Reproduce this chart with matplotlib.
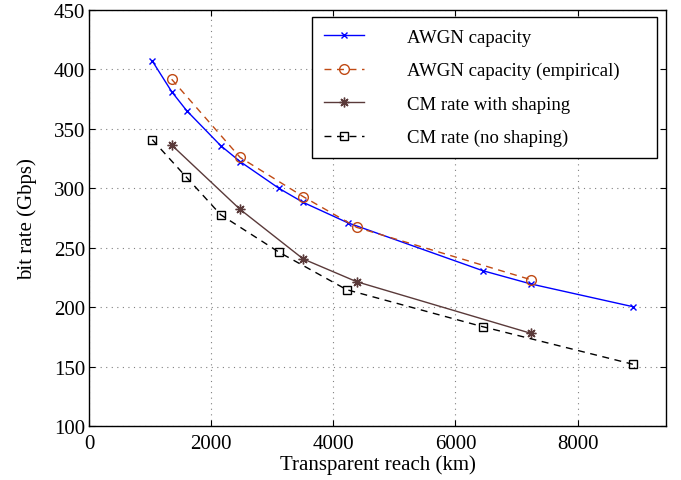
import matplotlib
matplotlib.use("Agg")
import matplotlib.pyplot as plt

# Data
awgn_x = [1032, 1350, 1596, 2153, 2474, 3108, 3501, 4233, 6445, 7236, 8907]
awgn_y = [406.9, 381.1, 365.1, 335.7, 322.2, 299.8, 288.1, 270.9, 230.6, 219.4, 200.3]

emp_x = [1350, 2469, 3506, 4381, 7236]
emp_y = [391.5, 325.9, 292.8, 267.0, 223.0]

shp_x = [1350, 2469, 3506, 4381, 7236]
shp_y = [336.2, 282.2, 240.4, 221.3, 177.9]

nos_x = [1032, 1589, 2153, 3113, 4217, 6445, 8907]
nos_y = [340.7, 309.3, 277.6, 246.0, 214.6, 183.5, 151.9]

labels = ["AWGN capacity", "AWGN capacity (empirical)",
          "CM rate with shaping", "CM rate (no shaping)"]
xticks = [0, 2000, 4000, 6000, 8000]
yticks = [100, 150, 200, 250, 300, 350, 400, 450]

plt.rcParams['font.family'] = ['Liberation Serif', 'DejaVu Serif']

fig = plt.figure(figsize=(6.81, 4.81), dpi=100)
ax = fig.add_axes([0.1311, 0.1123, 0.978 - 0.1311, 0.9778 - 0.1123])

blue = '#0000ff'
orange = '#c04a14'
brown = '#5a3a3a'

ax.plot(awgn_x, awgn_y, color=blue, lw=1.0, marker='x', ms=5, mew=1.0,
        label=labels[0])
ax.plot(emp_x, emp_y, color=orange, lw=1.0, ls=(0, (5, 4)), marker='o', ms=7,
        mfc='none', mew=1.0, label=labels[1])
ax.plot(shp_x, shp_y, color=brown, lw=1.0, marker=(8, 2, 0), ms=7, mew=1.0,
        label=labels[2])
ax.plot(nos_x, nos_y, color='black', lw=1.0, ls=(0, (5, 4)), marker='s', ms=5.5,
        mfc='none', mew=1.0, label=labels[3])

ax.set_xlim(0, 9450)
ax.set_ylim(100, 450)
ax.set_xticks(xticks)
ax.set_yticks(yticks)
ax.tick_params(direction='in', top=True, right=True, labelsize=15,
               length=4, width=0.8)
ax.tick_params(axis='x', pad=6)
ax.tick_params(axis='y', pad=3)
ax.grid(True, ls=(0, (1, 4)), color='#808080', lw=0.8)
for s in ax.spines.values():
    s.set_linewidth(1.0)

ax.set_xlabel("Transparent reach (km)", fontsize=15, labelpad=1)
ax.set_ylabel("bit rate (Gbps)", fontsize=15, labelpad=12)

leg = ax.legend(loc='upper left',
                bbox_to_anchor=(0.3867, 0.6493, 0.5972, 0.3324),
                mode='expand',
                borderaxespad=0, fontsize=13.5, numpoints=1,
                handlelength=2.15, handletextpad=2.3, labelspacing=0.86,
                fancybox=False, framealpha=1, edgecolor='black',
                borderpad=0.62)
leg.get_frame().set_linewidth(1.0)

fig.savefig("out.png", dpi=100)
